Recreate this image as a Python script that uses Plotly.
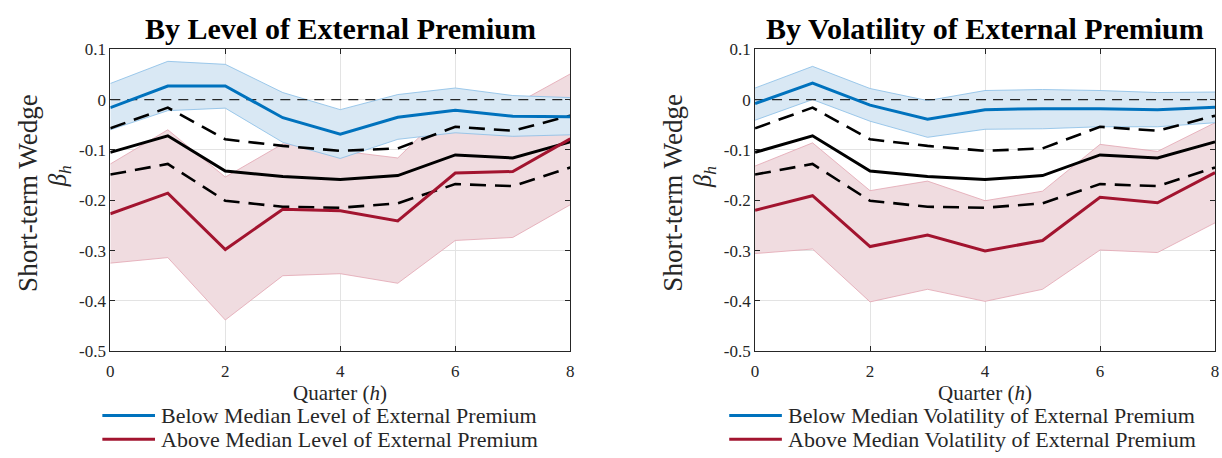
import plotly.graph_objects as go

# Horizon (quarters)
quarters = [0, 1, 2, 3, 4, 5, 6, 7, 8]

# Pooled estimate with 90% band (drawn in both panels)
pooled = [-0.105, -0.072, -0.142, -0.153, -0.159, -0.151, -0.110, -0.116, -0.084]
pooled_hi = [-0.057, -0.016, -0.079, -0.092, -0.102, -0.097, -0.054, -0.062, -0.032]
pooled_lo = [-0.149, -0.128, -0.201, -0.213, -0.215, -0.206, -0.168, -0.172, -0.135]

# Split by level of external premium
below_level = [-0.016, 0.027, 0.027, -0.036, -0.069, -0.035, -0.021, -0.033, -0.034]
below_level_hi = [0.032, 0.076, 0.070, 0.014, -0.020, 0.010, 0.023, 0.008, 0.004]
below_level_lo = [-0.060, -0.022, -0.017, -0.085, -0.117, -0.079, -0.066, -0.073, -0.070]
above_level = [-0.227, -0.186, -0.298, -0.218, -0.221, -0.241, -0.146, -0.143, -0.078]
above_level_hi = [-0.128, -0.060, -0.154, -0.088, -0.102, -0.116, -0.005, -0.012, 0.051]
above_level_lo = [-0.325, -0.314, -0.438, -0.350, -0.346, -0.365, -0.280, -0.274, -0.209]

# Split by volatility of external premium
below_vol = [-0.008, 0.033, -0.011, -0.039, -0.020, -0.018, -0.018, -0.020, -0.015]
below_vol_hi = [0.023, 0.066, 0.022, -0.002, 0.018, 0.020, 0.018, 0.014, 0.015]
below_vol_lo = [-0.041, 0.000, -0.043, -0.075, -0.059, -0.058, -0.054, -0.054, -0.046]
above_vol = [-0.220, -0.191, -0.292, -0.269, -0.301, -0.280, -0.194, -0.205, -0.145]
above_vol_hi = [-0.132, -0.086, -0.181, -0.162, -0.201, -0.182, -0.089, -0.103, -0.046]
above_vol_lo = [-0.306, -0.297, -0.402, -0.377, -0.401, -0.377, -0.299, -0.304, -0.245]

panel_titles = ["By Level of External Premium", "By Volatility of External Premium"]
legend_below = ["Below Median Level of External Premium", "Below Median Volatility of External Premium"]
legend_above = ["Above Median Level of External Premium", "Above Median Volatility of External Premium"]

y_ticks = [0.1, 0, -0.1, -0.2, -0.3, -0.4, -0.5]
y_ticktext = ["0.1", "0", "-0.1", "-0.2", "-0.3", "-0.4", "-0.5"]
x_ticks = [0, 2, 4, 6, 8]

BLUE = "#0072BD"
RED = "#A2142F"
BLUE_FILL = "#d9e8f4"
RED_FILL = "#f0dce0"
BLUE_EDGE = "#86bde6"
RED_EDGE = "#e2a4b1"
INK = "#262626"
FONT = "Liberation Serif"

W, H = 1222, 458
panels = [
    dict(x0=107, x1=570, below=(below_level, below_level_hi, below_level_lo),
         above=(above_level, above_level_hi, above_level_lo)),
    dict(x0=756, x1=1219, below=(below_vol, below_vol_hi, below_vol_lo),
         above=(above_vol, above_vol_hi, above_vol_lo)),
]
PLOT_TOP, PLOT_BOTTOM = 42, 357

fig = go.Figure()


def band(xa, ya, hi, lo, fill, edge):
    fig.add_trace(go.Scatter(x=quarters, y=hi, mode="lines", xaxis=xa, yaxis=ya,
                             line=dict(color=edge, width=0.8), showlegend=False, hoverinfo="skip"))
    fig.add_trace(go.Scatter(x=quarters, y=lo, mode="lines", xaxis=xa, yaxis=ya,
                             line=dict(color=edge, width=0.8), fill="tonexty", fillcolor=fill,
                             showlegend=False, hoverinfo="skip"))


layout_axes = {}
annotations = []
shapes = []

for i, p in enumerate(panels):
    xa = "x" if i == 0 else "x2"
    ya = "y" if i == 0 else "y2"
    b, bh, bl = p["below"]
    a, ah, al = p["above"]

    band(xa, ya, ah, al, RED_FILL, RED_EDGE)
    band(xa, ya, bh, bl, BLUE_FILL, BLUE_EDGE)

    # zero reference
    fig.add_trace(go.Scatter(x=[quarters[0], quarters[-1]], y=[0, 0], mode="lines", xaxis=xa, yaxis=ya,
                             line=dict(color=INK, width=1.1, dash="10px,7px"),
                             showlegend=False, hoverinfo="skip"))
    # pooled estimate
    for s in (pooled_hi, pooled_lo):
        fig.add_trace(go.Scatter(x=quarters, y=s, mode="lines", xaxis=xa, yaxis=ya,
                                 line=dict(color="black", width=2.6, dash="16px,9px"),
                                 showlegend=False, hoverinfo="skip"))
    fig.add_trace(go.Scatter(x=quarters, y=pooled, mode="lines", xaxis=xa, yaxis=ya,
                             line=dict(color="black", width=3), showlegend=False))
    fig.add_trace(go.Scatter(x=quarters, y=b, mode="lines", xaxis=xa, yaxis=ya,
                             line=dict(color=BLUE, width=3), showlegend=False))
    fig.add_trace(go.Scatter(x=quarters, y=a, mode="lines", xaxis=xa, yaxis=ya,
                             line=dict(color=RED, width=3), showlegend=False))

    dom_x = [p["x0"] / W, p["x1"] / W]
    dom_y = [1 - PLOT_BOTTOM / H, 1 - PLOT_TOP / H]
    suffix = "" if i == 0 else "2"
    layout_axes["xaxis" + suffix] = dict(
        domain=dom_x, range=[0, 8], anchor=ya, tickvals=x_ticks, ticks="inside", ticklen=5,
        tickcolor=INK, showline=True, linecolor=INK, linewidth=1, mirror="ticks",
        showgrid=True, gridcolor="#e3e3e3", gridwidth=1, zeroline=False,
        ticklabelstandoff=4,
        tickfont=dict(family=FONT, size=17, color=INK),
    )
    layout_axes["yaxis" + suffix] = dict(
        domain=dom_y, range=[-0.5, 0.1], anchor=xa, tickvals=y_ticks, ticktext=y_ticktext,
        ticks="inside", ticklen=5, tickcolor=INK, showline=True, linecolor=INK,
        linewidth=1, mirror="ticks", showgrid=True, gridcolor="#e3e3e3", gridwidth=1,
        zeroline=False, tickfont=dict(family=FONT, size=17, color=INK),
    )

    # panel title
    annotations.append(dict(text="<b>" + panel_titles[i] + "</b>", x=(p["x0"] + p["x1"]) / 2 / W,
                            y=1 - 20 / H, xref="paper", yref="paper", showarrow=False,
                            xanchor="center", yanchor="middle",
                            font=dict(family=FONT, size=30, color="black")))
    # x-axis title
    annotations.append(dict(text="Quarter (<i>h</i>)", x=(p["x0"] + p["x1"]) / 2 / W, y=1 - 401 / H,
                            xref="paper", yref="paper", showarrow=False,
                            xanchor="center", yanchor="middle",
                            font=dict(family=FONT, size=21, color=INK)))
    # y-axis title (two lines)
    annotations.append(dict(text="Short-term Wedge", x=(p["x0"] - 83) / W, y=1 - 192 / H,
                            xref="paper", yref="paper", showarrow=False, textangle=-90,
                            xanchor="center", yanchor="middle",
                            font=dict(family=FONT, size=27, color=INK)))
    annotations.append(dict(text="<i>β<sub>h</sub></i>", x=(p["x0"] - 51) / W, y=1 - 175 / H,
                            xref="paper", yref="paper", showarrow=False, textangle=-90,
                            xanchor="center", yanchor="middle",
                            font=dict(family=FONT, size=25, color=INK)))

    # legend rows
    lx0 = p["x0"] - 8 if i == 0 else p["x0"] - 26
    for row, (label, col) in enumerate([(legend_below[i], BLUE), (legend_above[i], RED)]):
        yc = 424 + row * 25
        shapes.append(dict(type="line", xref="paper", yref="paper", x0=lx0 / W, x1=(lx0 + 53) / W,
                           y0=1 - yc / H, y1=1 - yc / H, line=dict(color=col, width=3)))
        annotations.append(dict(text=label, x=(lx0 + 57) / W, y=1 - yc / H, xref="paper", yref="paper",
                                showarrow=False, xanchor="left", yanchor="middle",
                                font=dict(family=FONT, size=22, color=INK)))

fig.update_layout(
    width=W, height=H, margin=dict(l=0, r=0, t=0, b=0),
    paper_bgcolor="white", plot_bgcolor="white", showlegend=False,
    annotations=annotations, shapes=shapes, **layout_axes,
)

fig.write_html("out.html")
